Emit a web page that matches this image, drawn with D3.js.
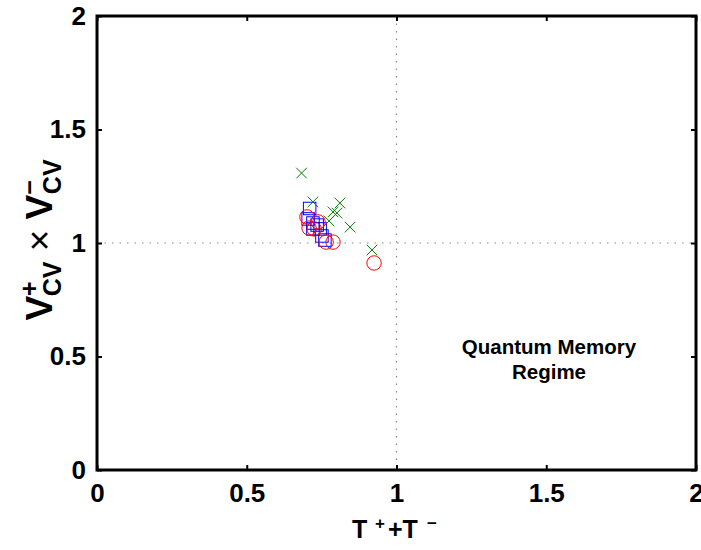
<!DOCTYPE html>
<html><head><meta charset="utf-8">
<script src="https://cdn.jsdelivr.net/npm/d3@7"></script>
<style>body{margin:0;background:#fff}svg{display:block}text{font-family:"Liberation Sans",Arial,sans-serif;font-weight:bold}</style>
</head><body><svg id="c" width="701" height="550"></svg>
<script>
const xTicks = [0, 0.5, 1, 1.5, 2];
const yTicks = [0, 0.5, 1, 1.5, 2];
const xTickLabels = ["0", "0.5", "1", "1.5", "2"];
const yTickLabels = ["0", "0.5", "1", "1.5", "2"];
const squaresX = [0.710, 0.705, 0.721, 0.735, 0.721, 0.745, 0.751, 0.761];
const squaresY = [1.152, 1.106, 1.088, 1.079, 1.062, 1.062, 1.031, 1.013];
const circlesX = [0.701, 0.708, 0.738, 0.725, 0.765, 0.788, 0.925];
const circlesY = [1.115, 1.066, 1.093, 1.062, 1.004, 1.004, 0.912];
const crossesX = [0.683, 0.721, 0.811, 0.788, 0.801, 0.775, 0.845, 0.918];
const crossesY = [1.308, 1.181, 1.176, 1.137, 1.132, 1.097, 1.070, 0.969];
const regionText = ["Quantum Memory", "Regime"];

const FONT = '"Liberation Sans",Arial,sans-serif';
const svg = d3.select("#c");
const L = 97, R = 696, T = 16, B = 470;
const x = d3.scaleLinear().domain([0, 2]).range([L, R]);
const y = d3.scaleLinear().domain([0, 2]).range([B, T]);

// dotted reference lines
svg.append("line").attr("x1", x(1)).attr("x2", x(1)).attr("y1", T).attr("y2", B)
  .attr("stroke", "#888").attr("stroke-width", 1.2).attr("stroke-dasharray", "1.5,6");
svg.append("line").attr("x1", L).attr("x2", R).attr("y1", y(1)).attr("y2", y(1))
  .attr("stroke", "#888").attr("stroke-width", 1.2).attr("stroke-dasharray", "1.5,6");

// axes with inward ticks
const ax = (g, gen) => g.call(gen).call(s => s.select(".domain").remove());
svg.append("g").attr("transform", `translate(0,${B})`)
  .call(g => ax(g, d3.axisBottom(x).tickValues(xTicks).tickSize(-5).tickPadding(14).tickFormat((d, i) => xTickLabels[i])));
svg.append("g").attr("transform", `translate(0,${T})`)
  .call(g => ax(g, d3.axisTop(x).tickValues(xTicks).tickSize(-5).tickFormat("")));
svg.append("g").attr("transform", `translate(${L},0)`)
  .call(g => ax(g, d3.axisLeft(y).tickValues(yTicks).tickSize(-5).tickPadding(11).tickFormat((d, i) => yTickLabels[i])));
svg.append("g").attr("transform", `translate(${R},0)`)
  .call(g => ax(g, d3.axisRight(y).tickValues(yTicks).tickSize(-5).tickFormat("")));
svg.selectAll(".tick line").attr("stroke", "#000").attr("stroke-width", 2);
svg.selectAll(".tick text").attr("fill", "#000")
  .style("font-size", "26px").style("font-family", FONT).style("font-weight", "bold");

// box
svg.append("rect").attr("x", L).attr("y", T).attr("width", R - L).attr("height", B - T)
  .attr("fill", "none").attr("stroke", "#000").attr("stroke-width", 3);

// markers
const sq = 12.5;
svg.append("g").selectAll("rect").data(squaresX).join("rect")
  .attr("x", (d, i) => x(d) - sq / 2).attr("y", (d, i) => y(squaresY[i]) - sq / 2)
  .attr("width", sq).attr("height", sq).attr("fill", "none").attr("stroke", "#0000ff").attr("stroke-width", 1);
svg.append("g").selectAll("circle").data(circlesX).join("circle")
  .attr("cx", d => x(d)).attr("cy", (d, i) => y(circlesY[i])).attr("r", 7.2)
  .attr("fill", "none").attr("stroke", "#ff0000").attr("stroke-width", 1);
const cs = 5.3;
svg.append("g").selectAll("path").data(crossesX).join("path")
  .attr("d", (d, i) => { const cx = x(d), cy = y(crossesY[i]);
    return `M${cx - cs},${cy - cs}L${cx + cs},${cy + cs}M${cx - cs},${cy + cs}L${cx + cs},${cy - cs}`; })
  .attr("stroke", "#008000").attr("stroke-width", 1).attr("fill", "none");

// region text
svg.append("g").selectAll("text").data(regionText).join("text")
  .attr("x", 549).attr("y", (d, i) => 354 + i * 25).attr("text-anchor", "middle")
  .style("font-size", "20.5px").attr("fill", "#000").text(d => d);

// x label
const xl = svg.append("text").attr("y", 538).attr("fill", "#000").style("font-size", "25px");
xl.append("tspan").attr("x", 352).text("T");
xl.append("tspan").attr("x", 375).attr("dy", -9).style("font-size", "17px").text("+");
xl.append("tspan").attr("x", 388).attr("dy", 9).text("+T");
xl.append("tspan").attr("x", 427).attr("dy", -9).style("font-size", "17px").text("−");

// y label
const yl = svg.append("text").attr("transform", `translate(52,240) rotate(-90)`)
  .attr("text-anchor", "middle").style("font-size", "37px").attr("fill", "#000");
yl.append("tspan").text("V");
yl.append("tspan").attr("dy", -14).style("font-size", "25px").text("+");
yl.append("tspan").attr("dx", -15).attr("dy", 23).style("font-size", "25px").text("CV");
yl.append("tspan").attr("dy", -9).style("font-weight", "normal").text(" × ");
yl.append("tspan").text("V");
yl.append("tspan").attr("dy", -14).style("font-size", "25px").text("−");
yl.append("tspan").attr("dx", -14).attr("dy", 23).style("font-size", "25px").text("CV");
</script></body></html>
